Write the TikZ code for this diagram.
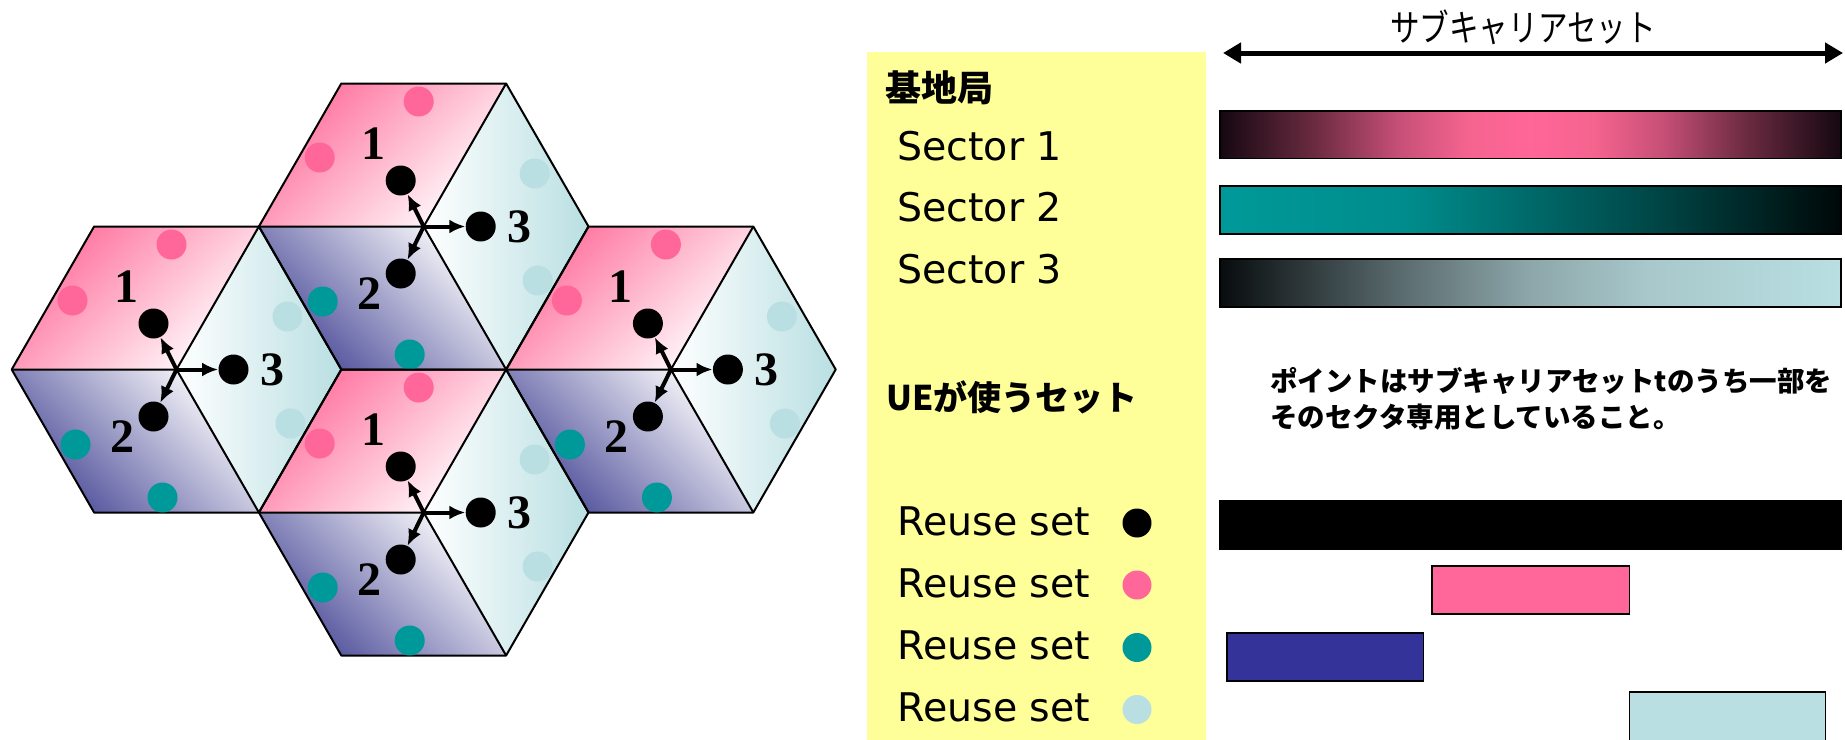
\documentclass[tikz,border=0pt]{standalone}
\usepackage{fontspec}
\usepackage{tikz}
\usetikzlibrary{arrows.meta}

\newfontfamily\latinfont{DejaVu Sans}
\newfontfamily\digitfont{Liberation Serif}
\newfontfamily\jpfont{Noto Sans CJK JP}
\newfontfamily\jpnarrow[FakeStretch=0.8]{Noto Sans CJK JP}

\definecolor{pinkc}{HTML}{FF6699}
\definecolor{pinkfill}{HTML}{FF6F9C}
\definecolor{tealc}{HTML}{009999}
\definecolor{lightc}{HTML}{B9DFE2}
\definecolor{purplefill}{HTML}{4A4A98}
\definecolor{navyc}{HTML}{333399}
\definecolor{legendbg}{HTML}{FFFF99}

\definecolor{s1a}{HTML}{150810}
\definecolor{s1b}{HTML}{6A2A40}
\definecolor{s1c}{HTML}{C85078}
\definecolor{s1d}{HTML}{F5648F}
\definecolor{s2a}{HTML}{008C8C}
\definecolor{s2b}{HTML}{004848}
\definecolor{s2c}{HTML}{000808}
\definecolor{s3a}{HTML}{080C0E}
\definecolor{s3b}{HTML}{5A6B6E}
\definecolor{s3c}{HTML}{8DA7AA}
\definecolor{s3d}{HTML}{A8C8CB}

\pgfdeclarehorizontalshading{sectorone}{100bp}{color(0bp)=(s1a); color(25bp)=(s1a);
    color(32.5bp)=(s1b); color(39.5bp)=(s1c); color(45bp)=(s1d); color(50bp)=(pinkc);
    color(55bp)=(s1d); color(60.5bp)=(s1c); color(67.5bp)=(s1b); color(75bp)=(s1a);
    color(100bp)=(s1a)}
\pgfdeclarehorizontalshading{sectortwo}{100bp}{color(0bp)=(tealc); color(25bp)=(tealc);
    color(40bp)=(s2a); color(59.5bp)=(s2b); color(75bp)=(s2c); color(100bp)=(s2c)}
\pgfdeclarehorizontalshading{sectorthree}{100bp}{color(0bp)=(s3a); color(25bp)=(s3a);
    color(39.5bp)=(s3b); color(50bp)=(s3c); color(59.5bp)=(s3d); color(75bp)=(lightc);
    color(100bp)=(lightc)}

\def\hexr{164.8}
\def\hexw{82.4}
\def\hexh{143}

\begin{document}
\begin{tikzpicture}[x=0.5pt,y=-0.5pt,
        hexline/.style={draw=black,line width=1pt,line join=round},
        ue/.style={circle,fill=black,inner sep=0pt,minimum size=15pt},
        beam/.style={line width=2pt,-{Latex[length=8pt,width=7pt]}},
        sectorno/.style={font=\digitfont\bfseries\fontsize{24}{28}\selectfont,inner sep=0pt},
        legendtext/.style={font=\latinfont\fontsize{19.75}{24}\selectfont,inner sep=0pt,anchor=base west},
        reusedot/.style={circle,inner sep=0pt,minimum size=14.5pt},
        bar/.style={draw=black,line width=0.8pt}]

    \fill[white] (0,0) rectangle (1845,739);
    \useasboundingbox (0,0) rectangle (1845,739);

    % cells
    \foreach \n/\cx/\cy in {a/176.5/369.5,b/423.7/226.5,c/423.7/512.5,d/670.9/369.5}{
        \begin{scope}[shift={(\cx,\cy)}]
            \shade[top color=pinkfill,bottom color=white,shading angle=45]
                (0,0) -- (\hexw,-\hexh) -- (-\hexw,-\hexh) -- (-\hexr,0) -- cycle;
            \shade[left color=white,right color=lightc]
                (0,0) -- (\hexw,-\hexh) -- (\hexr,0) -- (\hexw,\hexh) -- cycle;
            \shade[top color=white,bottom color=purplefill,shading angle=-45]
                (0,0) -- (\hexw,\hexh) -- (-\hexw,\hexh) -- (-\hexr,0) -- cycle;
        \end{scope}
    }
    \foreach \n/\cx/\cy in {a/176.5/369.5,b/423.7/226.5,c/423.7/512.5,d/670.9/369.5}{
        \begin{scope}[shift={(\cx,\cy)}]
            \draw[hexline] (\hexr,0) -- (\hexw,-\hexh) -- (-\hexw,-\hexh) -- (-\hexr,0)
                -- (-\hexw,\hexh) -- (\hexw,\hexh) -- cycle;
            \draw[hexline] (-\hexr,0) -- (0,0) -- (\hexw,-\hexh) (0,0) -- (\hexw,\hexh);
            \fill[pinkc] (-5,-125) circle[radius=7.5pt] (-104,-69) circle[radius=7.5pt];
            \fill[tealc] (-101,75) circle[radius=7.5pt] (-14,128) circle[radius=7.5pt];
            \fill[lightc] (111,-53) circle[radius=7.5pt] (114,54) circle[radius=7.5pt];
            \coordinate (\n-bs) at (0,0);
            \node[ue] (\n-ue1) at (-23,-46) {};
            \node[ue] (\n-ue2) at (-23,47) {};
            \node[ue] (\n-ue3) at (57,0) {};
            \node[sectorno] (\n-s1) at (-50,-83) {1};
            \node[sectorno] (\n-s2) at (-54,67) {2};
            \node[sectorno] (\n-s3) at (96,0) {3};
            \draw[beam] (\n-bs) -- (\n-ue1);
            \draw[beam] (\n-bs) -- (\n-ue2);
            \draw[beam] (\n-bs) -- (\n-ue3);
        \end{scope}
    }

    % legend
    \fill[legendbg] (867,52) rectangle (1206,745);
    \node[font=\jpfont\bfseries\fontsize{18}{22}\selectfont,inner sep=0pt,anchor=west]
        (bs-title) at (885,87.5) {基地局};
    \foreach \i/\y in {1/160.7,2/221.7,3/283.3}
        \node[legendtext] (sec\i) at (897,\y) {Sector \i};
    \node[font=\jpfont\bfseries\fontsize{17}{22}\selectfont,inner sep=0pt,anchor=west]
        (ue-title) at (886,397) {UEが使うセット};
    \foreach \i/\y/\c in {1/535/black,2/597/pinkc,3/659.5/tealc,4/721.5/lightc}{
        \node[legendtext] (reuse\i) at (897,\y) {Reuse set};
        \node[reusedot,fill=\c] (reusedot\i) at (1137,\y-12) {};
    }

    % subcarrier set
    \coordinate (sc-l) at (1223,53);
    \coordinate (sc-r) at (1843,53);
    \draw[line width=2.5pt,{Triangle[length=9pt,width=10pt]}-{Triangle[length=9pt,width=10pt]}]
        (sc-l) -- (sc-r);
    \node[font=\jpnarrow\fontsize{18.5}{22}\selectfont,inner sep=0pt] (sc-title) at (1523,27)
        {サブキャリアセット};

    \shadedraw[bar,shading=sectorone] (1220,110.7) rectangle (1841,158.3);
    \shadedraw[bar,shading=sectortwo] (1220,186) rectangle (1841,234);
    \shadedraw[bar,shading=sectorthree] (1220,259) rectangle (1841,307);

    \node[font=\jpfont\bfseries\fontsize{13.75}{18}\selectfont,inner sep=0pt,anchor=north west,
        align=left] (point) at (1270,367)
        {ポイントはサブキャリアセットtのうち一部を\\そのセクタ専用としていること。};

    \draw[bar,fill=black] (1220,500.7) rectangle (1841,549);
    \draw[bar,fill=pinkc] (1432,566) rectangle (1629.5,614);
    \draw[bar,fill=navyc] (1227,632.7) rectangle (1423.5,680.7);
    \draw[bar,fill=lightc] (1629.5,691.7) rectangle (1825.5,750);
\end{tikzpicture}
\end{document}
